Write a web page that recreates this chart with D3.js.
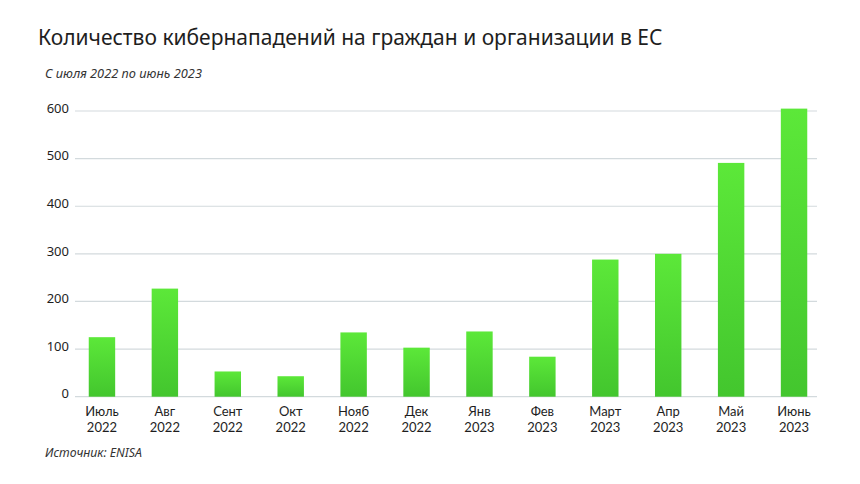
<!DOCTYPE html>
<html>
<head>
<meta charset="utf-8">
<script src="https://cdn.jsdelivr.net/npm/d3@7"></script>
<style>
  body { margin: 0; background: #ffffff; }
  text { font-family: "Noto Sans", sans-serif; fill: #1e1e1e; }
</style>
</head>
<body>
<div id="barchart"></div>
<script>

// chart data
var months = ["Июль", "Авг", "Сент", "Окт", "Нояб", "Дек", "Янв", "Фев", "Март", "Апр", "Май", "Июнь"];
var years = ["2022", "2022", "2022", "2022", "2022", "2022", "2023", "2023", "2023", "2023", "2023", "2023"];
var attacks = [125, 227, 53, 43, 135, 103, 137, 84, 288, 300, 491, 605];
var yTicks = [0, 100, 200, 300, 400, 500, 600];

var width = 860,
  height = 484;

var svg = d3.select("#barchart")
  .append("svg")
    .attr("width", width)
    .attr("height", height);

// gradient for the bars, lighter at the top
var grad = svg.append("defs")
  .append("linearGradient")
    .attr("id", "barGrad")
    .attr("x1", 0).attr("y1", 0)
    .attr("x2", 0).attr("y2", 1);
grad.append("stop").attr("offset", "0%").attr("stop-color", "#5ce839");
grad.append("stop").attr("offset", "100%").attr("stop-color", "#43c62e");

// scales
var x = d3.scaleBand()
  .domain(d3.range(months.length))
  .range([70.5, 825.5])
  .paddingInner(0.58)
  .paddingOuter(0.29);

var y = d3.scaleLinear()
  .domain([0, 600])
  .range([396.7, 111]);

// gridlines
svg.append("g")
  .selectAll("line")
  .data(yTicks)
  .enter().append("line")
    .attr("x1", 75)
    .attr("x2", 817)
    .attr("y1", function(d) { return y(d); })
    .attr("y2", function(d) { return y(d); })
    .style("stroke", "#d3dadd")
    .style("stroke-width", 1.2);

// y axis labels
var yAxis = d3.axisLeft(y)
  .tickValues(yTicks)
  .tickSize(0)
  .tickPadding(0);

svg.append("g")
  .attr("class", "y axis")
  .attr("transform", "translate(69,-3)")
  .call(yAxis)
  .call(function(g) { g.select(".domain").remove(); })
  .selectAll("text")
    .style("font-size", "13px")
    .style("font-family", "\"Noto Sans\", sans-serif")
    .style("fill", "#1e1e1e");

// bars
svg.selectAll(".bar")
  .data(attacks)
  .enter().append("rect")
    .attr("class", "bar")
    .attr("x", function(d, i) { return x(i); })
    .attr("y", function(d) { return y(d); })
    .attr("width", x.bandwidth())
    .attr("height", function(d) { return y(0) - y(d); })
    .style("fill", "url(#barGrad)");

// x labels, month on top of year
svg.append("g")
  .selectAll("text")
  .data(months)
  .enter().append("text")
    .attr("x", function(d, i) { return x(i) + x.bandwidth() / 2; })
    .attr("y", 416)
    .style("text-anchor", "middle")
    .style("font-family", "Lato, sans-serif")
    .style("font-size", "13px")
    .text(function(d) { return d; });

svg.append("g")
  .selectAll("text")
  .data(years)
  .enter().append("text")
    .attr("x", function(d, i) { return x(i) + x.bandwidth() / 2; })
    .attr("y", 432)
    .style("text-anchor", "middle")
    .style("font-family", "Lato, sans-serif")
    .style("font-size", "13px")
    .text(function(d) { return d; });

// title, subtitle and source
svg.append("text")
  .attr("x", 38)
  .attr("y", 45)
  .style("font-size", "21px")
  .text("Количество кибернападений на граждан и организации в ЕС");

svg.append("text")
  .attr("x", 45)
  .attr("y", 78)
  .style("font-size", "12.8px")
  .style("font-style", "italic")
  .style("fill", "#333")
  .text("С июля 2022 по июнь 2023");

svg.append("text")
  .attr("x", 45)
  .attr("y", 457)
  .style("font-size", "12.3px")
  .style("font-style", "italic")
  .style("fill", "#333")
  .text("Источник: ENISA");

</script>
</body>
</html>
